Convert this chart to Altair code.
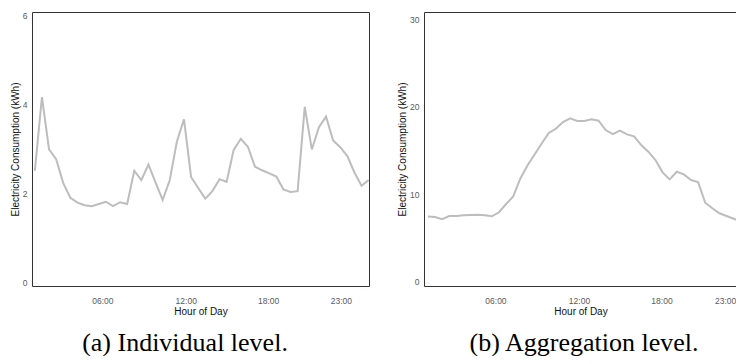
import altair as alt
import pandas as pd

# Half-hourly slots (48 per day)
slots = list(range(48))

individual_kwh = [2.51, 4.17, 2.99, 2.77, 2.23, 1.90, 1.79, 1.73, 1.71, 1.76,
                  1.81, 1.71, 1.80, 1.76, 2.51, 2.30, 2.65, 2.24, 1.85, 2.30,
                  3.17, 3.67, 2.37, 2.12, 1.88, 2.05, 2.32, 2.26, 2.98, 3.23,
                  3.05, 2.60, 2.52, 2.45, 2.38, 2.09, 2.03, 2.05, 3.95, 2.99,
                  3.49, 3.73, 3.19, 3.04, 2.84, 2.47, 2.17, 2.30]

aggregate_kwh = [7.45, 7.40, 7.15, 7.50, 7.52, 7.59, 7.63, 7.65, 7.59, 7.48,
                 7.94, 8.88, 9.75, 11.80, 13.28, 14.55, 15.80, 17.00, 17.50, 18.25,
                 18.68, 18.38, 18.38, 18.56, 18.40, 17.34, 16.88, 17.28, 16.84, 16.62,
                 15.62, 14.86, 13.90, 12.50, 11.70, 12.57, 12.27, 11.62, 11.39, 9.03,
                 8.39, 7.82, 7.51, 7.20, 6.90, 6.74, 6.72, 6.72]

tick_labels = ["06:00", "12:00", "18:00", "23:00"]
left_tick_pos = [9.5, 21.25, 32.85, 43.1]
right_tick_pos = [9.5, 21.25, 32.85, 41.8]
left_yticks = [0, 2, 4, 6]
right_yticks = [0, 10, 20, 30]

captions = ["(a) Individual level.", "(b) Aggregation level."]
x_title = "Hour of Day"
y_title = "Electricity Consumption (kWh)"

df_left = pd.DataFrame({"slot": slots, "kwh": individual_kwh})
df_right = pd.DataFrame({"slot": slots, "kwh": aggregate_kwh})

SANS = "Liberation Sans"
FRAME = "#333333"
LINE = "#bdbdbd"
TICK_COLOR = "#5a5a5a"


def x_axis(tick_pos):
    label_expr = "{}[indexof({}, datum.value)]".format(
        "[" + ",".join("'%s'" % t for t in tick_labels) + "]",
        "[" + ",".join(str(p) for p in tick_pos) + "]",
    )
    return alt.Axis(values=tick_pos, labelExpr=label_expr, title=x_title,
                    ticks=False, domain=False, grid=False, labelFont=SANS,
                    labelFontSize=8.5, labelColor=TICK_COLOR, labelPadding=10.5,
                    labelOverlap=False, labelFlush=False, titleFont=SANS,
                    titleFontSize=10, titleFontWeight="normal",
                    titleColor="#111111", titlePadding=1)


def y_axis(values):
    return alt.Axis(values=values, format="d", title=y_title, ticks=False,
                    domain=False, grid=False, labelFont=SANS, labelFontSize=8.5,
                    labelColor=TICK_COLOR, labelPadding=5, titleFont=SANS,
                    titleFontSize=10, titleFontWeight="normal",
                    titleColor="#111111", titlePadding=2)


def caption(text, dx):
    return alt.TitleParams(text=text, orient="bottom", font="Liberation Serif",
                           fontSize=26, fontWeight="normal", color="#000000",
                           offset=13.5, anchor="middle", frame="group", dx=dx)


H = 274
W_LEFT = 337
W_RIGHT = 313

left = alt.Chart(df_left).mark_line(color=LINE, strokeWidth=2, clip=True).encode(
    x=alt.X("slot:Q", scale=alt.Scale(domain=[-0.4, 47.05], nice=False, zero=False),
            axis=x_axis(left_tick_pos)),
    y=alt.Y("kwh:Q", scale=alt.Scale(domain=[-0.09, 6.09], nice=False, zero=False),
            axis=y_axis(left_yticks)),
).properties(width=W_LEFT, height=H, title=caption(captions[0], -15.5),
             view=alt.ViewBackground(stroke=FRAME, strokeWidth=1))

right = alt.Chart(df_right).mark_line(color=LINE, strokeWidth=2, clip=True).encode(
    x=alt.X("slot:Q", scale=alt.Scale(domain=[-0.55, 43.47], nice=False, zero=False),
            axis=x_axis(right_tick_pos)),
    y=alt.Y("kwh:Q", scale=alt.Scale(domain=[-0.49, 30.83], nice=False, zero=False),
            axis=y_axis(right_yticks)),
).properties(width=W_RIGHT, height=H, title=caption(captions[1], 3.5),
             view=alt.ViewBackground(stroke=FRAME, strokeWidth=1))

chart = alt.hconcat(left, right, spacing=27).properties(
    padding={"left": 1, "top": 3, "right": -2, "bottom": 0}
).configure_view(stroke=None)

chart.save("out.html", embed_options={"renderer": "svg", "actions": False})
